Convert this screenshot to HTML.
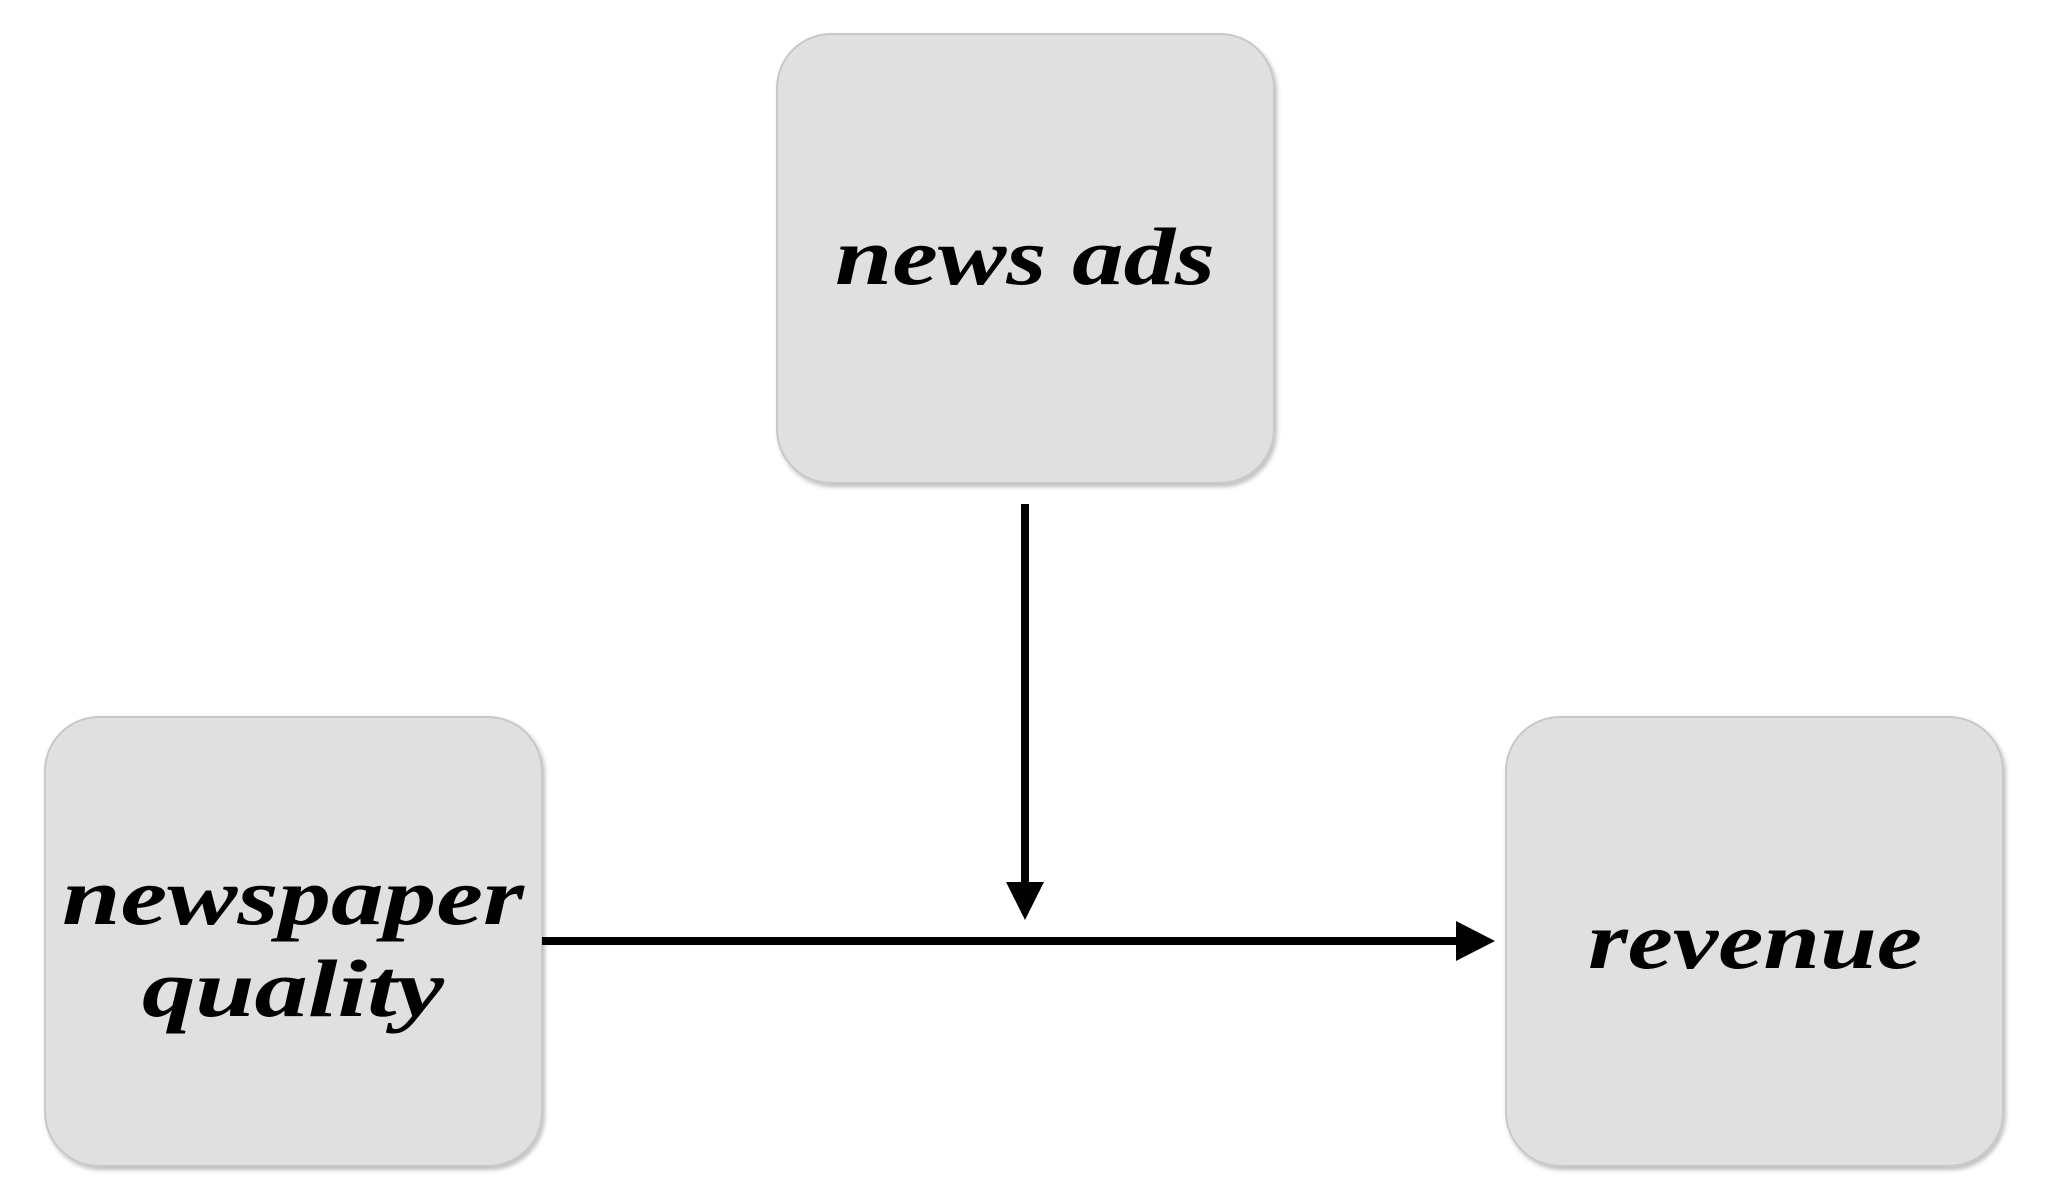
<!DOCTYPE html>
<html><head><meta charset="utf-8"><style>
html,body{margin:0;padding:0;background:#fff;}
svg{display:block;}
text{font-family:"Liberation Serif","DejaVu Serif",serif;font-weight:bold;font-style:italic;fill:#000;}
</style></head><body>
<svg width="2049" height="1200" viewBox="0 0 2049 1200" xmlns="http://www.w3.org/2000/svg">
<defs>
<filter id="sh" x="-10%" y="-10%" width="120%" height="120%">
<feDropShadow dx="2" dy="3" stdDeviation="2" flood-color="#000" flood-opacity="0.25"/>
</filter>
</defs>
<rect x="777" y="34" width="497" height="449" rx="54" fill="#e0e0e0" stroke="#c8c8c8" stroke-width="2" filter="url(#sh)"/>
<rect x="45" y="717" width="497" height="449" rx="54" fill="#e0e0e0" stroke="#c8c8c8" stroke-width="2" filter="url(#sh)"/>
<rect x="1506" y="717" width="497" height="449" rx="54" fill="#e0e0e0" stroke="#c8c8c8" stroke-width="2" filter="url(#sh)"/>
<text x="1025" y="284" font-size="82" text-anchor="middle" textLength="380" lengthAdjust="spacingAndGlyphs">news ads</text>
<text x="293" y="924" font-size="82" text-anchor="middle" textLength="462" lengthAdjust="spacingAndGlyphs">newspaper</text>
<text x="293" y="1016" font-size="82" text-anchor="middle" textLength="302" lengthAdjust="spacingAndGlyphs">quality</text>
<text x="1755" y="968" font-size="82" text-anchor="middle" textLength="334" lengthAdjust="spacingAndGlyphs">revenue</text>
<line x1="542" y1="941" x2="1462" y2="941" stroke="#000" stroke-width="8"/>
<polygon points="1456,921 1495,941 1456,961" fill="#000"/>
<line x1="1025" y1="504" x2="1025" y2="888" stroke="#000" stroke-width="8"/>
<polygon points="1006,882 1044,882 1025,920" fill="#000"/>
</svg>
</body></html>
